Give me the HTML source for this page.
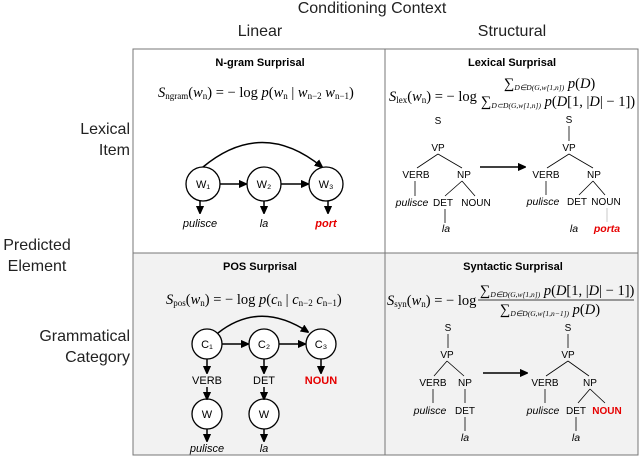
<!DOCTYPE html>
<html><head><meta charset="utf-8"><style>
html,body{margin:0;padding:0;background:#fff;}
svg{display:block;font-family:"Liberation Sans",sans-serif;}
.t{font-size:16px;fill:#222;}
.h{font-size:11px;font-weight:bold;text-anchor:middle;}
.n{font-size:10px;text-anchor:middle;}
.i{font-size:10.5px;font-style:italic;text-anchor:middle;}
.f{font-family:"Liberation Serif",serif;font-size:14.5px;}
.fs{font-family:"Liberation Serif",serif;font-size:7.5px;font-style:italic;}
.r{fill:#e60000;font-weight:bold;}
line,path,circle{stroke:#000;}
.tl{stroke:#555;stroke-width:0.8;}
</style></head><body>
<svg width="640" height="457" viewBox="0 0 640 457">
<defs><marker id="a" markerWidth="8" markerHeight="8" refX="7" refY="4" orient="auto" markerUnits="userSpaceOnUse"><path d="M0,0.5 L8,4 L0,7.5z" fill="#000" stroke="none"/></marker></defs>
<rect x="133" y="253" width="505" height="202" fill="#f2f2f2"/>
<rect x="133" y="49" width="505" height="406" fill="none" stroke="#777" stroke-width="1"/>
<line x1="385" y1="49" x2="385" y2="455" style="stroke:#777"/>
<line x1="133" y1="253" x2="638" y2="253" style="stroke:#777"/>
<text class="t" x="372" y="13" text-anchor="middle">Conditioning Context</text>
<text class="t" x="260" y="36" text-anchor="middle">Linear</text>
<text class="t" x="512" y="36" text-anchor="middle">Structural</text>
<text class="t" x="130" y="134" text-anchor="end">Lexical</text>
<text class="t" x="130" y="155" text-anchor="end">Item</text>
<text class="t" x="37" y="250" text-anchor="middle">Predicted</text>
<text class="t" x="37" y="271" text-anchor="middle">Element</text>
<text class="t" x="130" y="341" text-anchor="end">Grammatical</text>
<text class="t" x="130" y="362" text-anchor="end">Category</text>

<!-- N-gram -->
<text class="h" x="260" y="66">N-gram Surprisal</text>
<text class="f" x="158" y="97"><tspan font-style="italic">S</tspan><tspan font-size="9" dy="2">ngram</tspan><tspan dy="-2">(</tspan><tspan font-style="italic">w</tspan><tspan font-size="9" dy="2">n</tspan><tspan dy="-2">) = − log </tspan><tspan font-style="italic">p</tspan>(<tspan font-style="italic">w</tspan><tspan font-size="9" dy="2">n</tspan><tspan dy="-2"> | </tspan><tspan font-style="italic">w</tspan><tspan font-size="9" dy="2">n−2</tspan><tspan dy="-2"> </tspan><tspan font-style="italic">w</tspan><tspan font-size="9" dy="2">n−1</tspan><tspan dy="-2">)</tspan></text>
<g fill="#fff" stroke-width="1.3">
<circle cx="203" cy="184" r="17"/><circle cx="264" cy="184" r="17"/><circle cx="326" cy="184" r="17"/></g>
<g class="n" style="font-size:11px"><text x="203" y="188">W₁</text><text x="264" y="188">W₂</text><text x="326" y="188">W₃</text></g>
<path d="M203,167 Q262,118 322,167" fill="none" stroke-width="1.5" marker-end="url(#a)"/>
<line x1="220" y1="184" x2="246" y2="184" stroke-width="1.5" marker-end="url(#a)"/>
<line x1="281" y1="184" x2="308" y2="184" stroke-width="1.5" marker-end="url(#a)"/>
<line x1="200" y1="201" x2="200" y2="213" stroke-width="1.5" marker-end="url(#a)"/>
<line x1="264" y1="201" x2="264" y2="213" stroke-width="1.5" marker-end="url(#a)"/>
<line x1="328" y1="201" x2="328" y2="213" stroke-width="1.5" marker-end="url(#a)"/>
<text class="i" x="200" y="227" style="font-size:11px">pulisce</text>
<text class="i" x="264" y="227" style="font-size:11px">la</text>
<text class="i r" x="326" y="227" style="font-size:11px">port</text>

<!-- Lexical -->
<text class="h" x="512" y="66">Lexical Surprisal</text>
<text class="f" x="389" y="101"><tspan font-style="italic">S</tspan><tspan font-size="9" dy="2">lex</tspan><tspan dy="-2">(</tspan><tspan font-style="italic">w</tspan><tspan font-size="9" dy="2">n</tspan><tspan dy="-2">) = − log</tspan></text>
<text class="f" x="504" y="88" font-size="13.5">∑<tspan class="fs" dy="2">D∈D(G,w[1,n])</tspan><tspan dy="-2" font-style="italic"> p</tspan>(<tspan font-style="italic">D</tspan>)</text>
<text class="f" x="481" y="106" font-size="12.5">∑<tspan class="fs" dy="2">D⊂D(G,w[1,n])</tspan><tspan dy="-2" font-style="italic"> p</tspan>(<tspan font-style="italic">D</tspan>[1, |<tspan font-style="italic">D</tspan>| − 1])</text>
<g class="n">
<text x="438" y="124">S</text><text x="438" y="151">VP</text><text x="416" y="178">VERB</text><text x="464" y="178">NP</text>
<text class="i" x="412" y="206">pulisce</text><text x="443" y="206">DET</text><text x="476" y="206">NOUN</text><text class="i" x="446" y="232">la</text>
<text x="569" y="123">S</text><text x="569" y="151">VP</text><text x="546" y="178">VERB</text><text x="594" y="178">NP</text>
<text class="i" x="543" y="205">pulisce</text><text x="577" y="205">DET</text><text x="606" y="205">NOUN</text><text class="i" x="574" y="232">la</text><text class="i r" x="607" y="232">porta</text>
</g>
<g class="tl">
<line x1="438" y1="154" x2="417" y2="168"/><line x1="438" y1="154" x2="462" y2="168"/>
<line x1="415" y1="181" x2="415" y2="196"/><line x1="462" y1="181" x2="445" y2="196"/><line x1="462" y1="181" x2="475" y2="196"/><line x1="445" y1="209" x2="445" y2="223"/>
<line x1="569" y1="126" x2="569" y2="141"/>
<line x1="569" y1="154" x2="547" y2="168"/><line x1="569" y1="154" x2="593" y2="168"/>
<line x1="546" y1="181" x2="546" y2="195"/><line x1="593" y1="181" x2="579" y2="195"/><line x1="593" y1="181" x2="605" y2="195"/><line x1="607" y1="208" x2="607" y2="222" style="stroke:#bbb"/>
</g>
<line x1="480" y1="167" x2="525" y2="167" stroke-width="1.5" marker-end="url(#a)"/>

<!-- POS -->
<text class="h" x="260" y="270">POS Surprisal</text>
<text class="f" x="166" y="304"><tspan font-style="italic">S</tspan><tspan font-size="9" dy="2">pos</tspan><tspan dy="-2">(</tspan><tspan font-style="italic">w</tspan><tspan font-size="9" dy="2">n</tspan><tspan dy="-2">) = − log </tspan><tspan font-style="italic">p</tspan>(<tspan font-style="italic">c</tspan><tspan font-size="9" dy="2">n</tspan><tspan dy="-2"> | </tspan><tspan font-style="italic">c</tspan><tspan font-size="9" dy="2">n−2</tspan><tspan dy="-2"> </tspan><tspan font-style="italic">c</tspan><tspan font-size="9" dy="2">n−1</tspan><tspan dy="-2">)</tspan></text>
<g fill="#fff" stroke-width="1.3">
<circle cx="207" cy="344" r="15"/><circle cx="264" cy="344" r="15"/><circle cx="321" cy="344" r="15"/>
<circle cx="207" cy="414" r="15"/><circle cx="264" cy="414" r="15"/></g>
<g class="n" style="font-size:11px"><text x="207" y="348">C₁</text><text x="264" y="348">C₂</text><text x="321" y="348">C₃</text>
<text x="207" y="418">W</text><text x="264" y="418">W</text>
<text x="207" y="384">VERB</text><text x="264" y="384">DET</text><text class="r" x="321" y="384">NOUN</text></g>
<path d="M218,333 Q260,300 308,332" fill="none" stroke-width="1.5" marker-end="url(#a)"/>
<line x1="222" y1="344" x2="248" y2="344" stroke-width="1.5" marker-end="url(#a)"/>
<line x1="279" y1="344" x2="305" y2="344" stroke-width="1.5" marker-end="url(#a)"/>
<line x1="207" y1="359" x2="207" y2="373" stroke-width="1.5" marker-end="url(#a)"/>
<line x1="264" y1="359" x2="264" y2="373" stroke-width="1.5" marker-end="url(#a)"/>
<line x1="321" y1="359" x2="321" y2="373" stroke-width="1.5" marker-end="url(#a)"/>
<line x1="207" y1="387" x2="207" y2="399" stroke-width="1.5" marker-end="url(#a)"/>
<line x1="264" y1="387" x2="264" y2="399" stroke-width="1.5" marker-end="url(#a)"/>
<line x1="207" y1="429" x2="207" y2="441" stroke-width="1.5" marker-end="url(#a)"/>
<line x1="264" y1="429" x2="264" y2="441" stroke-width="1.5" marker-end="url(#a)"/>
<text class="i" x="207" y="452" style="font-size:11px">pulisce</text>
<text class="i" x="264" y="452" style="font-size:11px">la</text>

<!-- Syntactic -->
<text class="h" x="513" y="270">Syntactic Surprisal</text>
<text class="f" x="387" y="305"><tspan font-style="italic">S</tspan><tspan font-size="9" dy="2">syn</tspan><tspan dy="-2">(</tspan><tspan font-style="italic">w</tspan><tspan font-size="9" dy="2">n</tspan><tspan dy="-2">) = − log</tspan></text>
<line x1="478" y1="300" x2="634" y2="300" stroke-width="0.8"/>
<text class="f" x="480" y="295" font-size="12.5">∑<tspan class="fs" dy="2">D∈D(G,w[1,n])</tspan><tspan dy="-2" font-style="italic"> p</tspan>(<tspan font-style="italic">D</tspan>[1, |<tspan font-style="italic">D</tspan>| − 1])</text>
<text class="f" x="500" y="314" font-size="12.5">∑<tspan class="fs" dy="2">D∈D(G,w[1,n−1])</tspan><tspan dy="-2" font-style="italic"> p</tspan>(<tspan font-style="italic">D</tspan>)</text>
<g class="n">
<text x="448" y="331">S</text><text x="447" y="358">VP</text><text x="433" y="386">VERB</text><text x="465" y="386">NP</text>
<text class="i" x="430" y="414">pulisce</text><text x="465" y="414">DET</text><text class="i" x="465" y="441">la</text>
<text x="568" y="331">S</text><text x="568" y="358">VP</text><text x="545" y="386">VERB</text><text x="590" y="386">NP</text>
<text class="i" x="543" y="414">pulisce</text><text x="576" y="414">DET</text><text class="r" x="607" y="414">NOUN</text><text class="i" x="576" y="441">la</text>
</g>
<g class="tl">
<line x1="448" y1="334" x2="448" y2="348"/>
<line x1="447" y1="361" x2="434" y2="376"/><line x1="447" y1="361" x2="464" y2="376"/>
<line x1="433" y1="389" x2="433" y2="403"/><line x1="465" y1="389" x2="465" y2="403"/><line x1="465" y1="417" x2="465" y2="431"/>
<line x1="568" y1="334" x2="568" y2="348"/>
<line x1="568" y1="361" x2="546" y2="376"/><line x1="568" y1="361" x2="589" y2="376"/>
<line x1="545" y1="389" x2="545" y2="403"/><line x1="590" y1="389" x2="578" y2="403"/><line x1="590" y1="389" x2="605" y2="403"/><line x1="576" y1="417" x2="576" y2="431"/>
</g>
<line x1="483" y1="373" x2="527" y2="373" stroke-width="1.5" marker-end="url(#a)"/>
</svg>
</body></html>
